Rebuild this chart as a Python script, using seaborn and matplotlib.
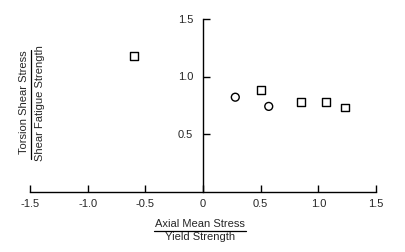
import matplotlib
matplotlib.use("Agg")
import matplotlib.pyplot as plt
from matplotlib.lines import Line2D
import seaborn as sns
import pandas as pd

# Data
axial_ratio = [-0.60, 0.50, 0.85, 1.07, 1.23, 0.28, 0.57]
torsion_ratio = [1.18, 0.88, 0.78, 0.78, 0.73, 0.82, 0.74]
series = ["square", "square", "square", "square", "square", "circle", "circle"]
x_ticks = [-1.5, -1.0, -0.5, 0, 0.5, 1.0, 1.5]
x_tick_labels = ["-1.5", "-1.0", "-0.5", "0", "0.5", "1.0", "1.5"]
y_ticks = [0.5, 1.0, 1.5]
y_tick_labels = ["0.5", "1.0", "1.5"]

df = pd.DataFrame({"x": axial_ratio, "y": torsion_ratio, "s": series})

sns.set_style("white")
plt.rcParams["font.family"] = ["Liberation Sans", "DejaVu Sans"]

W, H = 406, 252
fig = plt.figure(figsize=(W / 100, H / 100), dpi=100)
ax = fig.add_axes([30 / W, (H - 191.5) / H, 346 / W, 172.5 / H])

sns.scatterplot(data=df, x="x", y="y", style="s",
                markers={"square": "s", "circle": "o"},
                s=32, facecolor="none", edgecolor="black", linewidth=1.0,
                legend=False, ax=ax)

ax.set_xlim(-1.5, 1.5)
ax.set_ylim(0, 1.5)
ax.set_xlabel("")
ax.set_ylabel("")
ax.set_facecolor("white")

for side in ["top", "right"]:
    ax.spines[side].set_visible(False)
ax.spines["left"].set_position(("data", 0))
for side in ["left", "bottom"]:
    ax.spines[side].set_color("black")
    ax.spines[side].set_linewidth(1.0)

fs = 8
ax.set_xticks(x_ticks)
ax.set_xticklabels(x_tick_labels)
ax.set_yticks(y_ticks)
ax.set_yticklabels(y_tick_labels)
ax.tick_params(axis="x", direction="in", length=5, width=1, color="black",
               labelsize=fs, pad=5.5, bottom=True)
ax.tick_params(axis="y", direction="in", length=5, width=1, color="black",
               labelsize=fs, pad=7, left=True)

# Fraction-style axis labels
fig.text(200 / W, 1 - 224 / H, "Axial Mean Stress", ha="center", va="center", fontsize=fs)
fig.text(200 / W, 1 - 237.5 / H, "Yield Strength", ha="center", va="center", fontsize=fs)
fig.add_artist(Line2D([154 / W, 246 / W], [1 - 230.5 / H, 1 - 230.5 / H],
                      color="black", linewidth=0.9, transform=fig.transFigure))

fig.text(24 / W, 1 - 102 / H, "Torsion Shear Stress", ha="center", va="center",
         rotation=90, fontsize=fs)
fig.text(40 / W, 1 - 103 / H, "Shear Fatigue Strength", ha="center", va="center",
         rotation=90, fontsize=fs)
fig.add_artist(Line2D([31 / W, 31 / W], [1 - 50 / H, 1 - 159 / H],
                      color="black", linewidth=0.9, transform=fig.transFigure))

fig.savefig("out.png", dpi=100, facecolor="white")
